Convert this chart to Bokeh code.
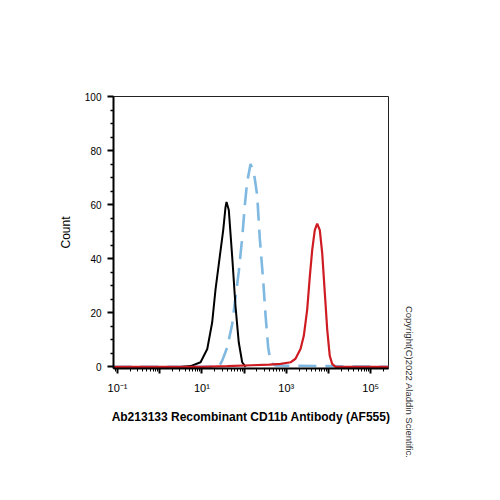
import math
from bokeh.plotting import figure
from bokeh.models import FixedTicker, Title
from bokeh.embed import file_html
from bokeh.resources import INLINE

# ---- data ----
# unstained / isotype control (black)
black_x = [3.1, 5.4, 9.3, 13.4, 17.5, 21.0, 26.5, 32.0, 36.2, 38.3, 43.4, 52.2, 62.5, 74.8, 90.1, 108]
black_y = [0, 0.3, 1.7, 6.6, 16.4, 28.6, 40.8, 50.6, 59, 61, 58, 40.8, 22.5, 9, 1.7, 0]

# blue dashed control
blue_x = [0.08, 25, 30.3, 39.8, 52.2, 62.5, 74.8, 90.1, 104, 118, 142, 170, 204, 235, 284, 321, 372, 423, 555, 264000]
blue_y = [0, 0, 2.3, 7.2, 15.8, 25.6, 35.3, 47.6, 59.8, 68.4, 75, 72, 63.5, 47.6, 31.7, 19.4, 7.2, 1.7, 0.5, 0]

# red: antibody stained
red_x = [0.08, 10, 40, 150, 400, 730, 1260, 1650, 2170, 2600, 3130, 3610, 4110, 4730, 5390, 6220, 7100, 8170, 9310, 10700, 12200, 14700, 264000]
red_y = [0, 0, 0.3, 0.6, 0.8, 1.1, 1.7, 3, 6.6, 11.5, 21.3, 33.5, 43.3, 50.6, 53, 50.6, 42, 27.4, 13.9, 4.1, 1.1, 0, 0]

x_major = [0.1, 1, 10, 100, 1000, 10000, 100000]
x_labels = ["10\u207b\u00b9", "", "10\u00b9", "", "10\u00b3", "", "10\u2075"]
y_major = [0, 20, 40, 60, 80, 100]
y_minor = [5, 10, 15, 25, 30, 35, 45, 50, 55, 65, 70, 75, 85, 90, 95]

x_title = "Ab213133 Recombinant CD11b Antibody (AF555)"
y_title = "Count"
copyright_text = "Copyright(C)2022 Aladdin Scientific."

FONT = "Liberation Sans"

p = figure(width=500, height=500, x_axis_type="log",
           x_range=(0.0804, 264000), y_range=(-0.6, 100),
           output_backend="svg", toolbar_location=None,
           min_border_left=113, min_border_right=112,
           min_border_top=96, min_border_bottom=132)

p.xgrid.visible = False
p.ygrid.visible = False
p.outline_line_color = "#222222"
p.outline_line_width = 1
p.background_fill_color = "white"
p.border_fill_color = "white"

p.line(blue_x, blue_y, line_color="#7fb8e0", line_width=2.6, line_dash="18 9")
p.line(black_x, black_y, line_color="black", line_width=2)
p.line(red_x, red_y, line_color="#cf1b22", line_width=2.2)

# x axis
minor = [m * 10.0 ** k for k in range(-2, 6) for m in range(2, 10)]
p.xaxis.ticker = FixedTicker(ticks=x_major, minor_ticks=minor)
p.xaxis.major_label_overrides = {t: lab for t, lab in zip(x_major, x_labels)}
p.xaxis.axis_line_width = 2
p.xaxis.major_tick_out = 5
p.xaxis.major_tick_in = 0
p.xaxis.major_tick_line_width = 2
p.xaxis.minor_tick_out = 3
p.xaxis.minor_tick_in = 0
p.xaxis.minor_tick_line_width = 1
p.xaxis.major_label_text_font = FONT
p.xaxis.major_label_text_font_size = "11px"
p.xaxis.major_label_text_color = "black"
p.xaxis.major_label_standoff = 8
p.xaxis.axis_label = x_title
p.xaxis.axis_label_text_font = FONT
p.xaxis.axis_label_text_font_style = "bold"
p.xaxis.axis_label_text_font_size = "12px"
p.xaxis.axis_label_text_color = "black"
p.xaxis.axis_label_standoff = 13

# y axis
p.yaxis.ticker = FixedTicker(ticks=y_major, minor_ticks=y_minor)
p.yaxis.axis_line_width = 2
p.yaxis.major_tick_out = 6
p.yaxis.major_tick_in = 0
p.yaxis.major_tick_line_width = 2
p.yaxis.minor_tick_out = 3
p.yaxis.minor_tick_in = 0
p.yaxis.minor_tick_line_width = 1.5
p.yaxis.major_label_text_font = FONT
p.yaxis.major_label_text_font_size = "10px"
p.yaxis.major_label_text_color = "black"
p.yaxis.major_label_standoff = 6
p.yaxis.axis_label = y_title
p.yaxis.axis_label_text_font = FONT
p.yaxis.axis_label_text_font_style = "normal"
p.yaxis.axis_label_text_font_size = "12px"
p.yaxis.axis_label_text_color = "black"
p.yaxis.axis_label_standoff = 9

p.add_layout(Title(text=copyright_text, align="right", offset=-90, standoff=30,
                   text_font=FONT, text_font_size="9.5px", text_font_style="normal",
                   text_color="#333333"), "right")

open("out.html", "w").write(file_html(p, INLINE))
